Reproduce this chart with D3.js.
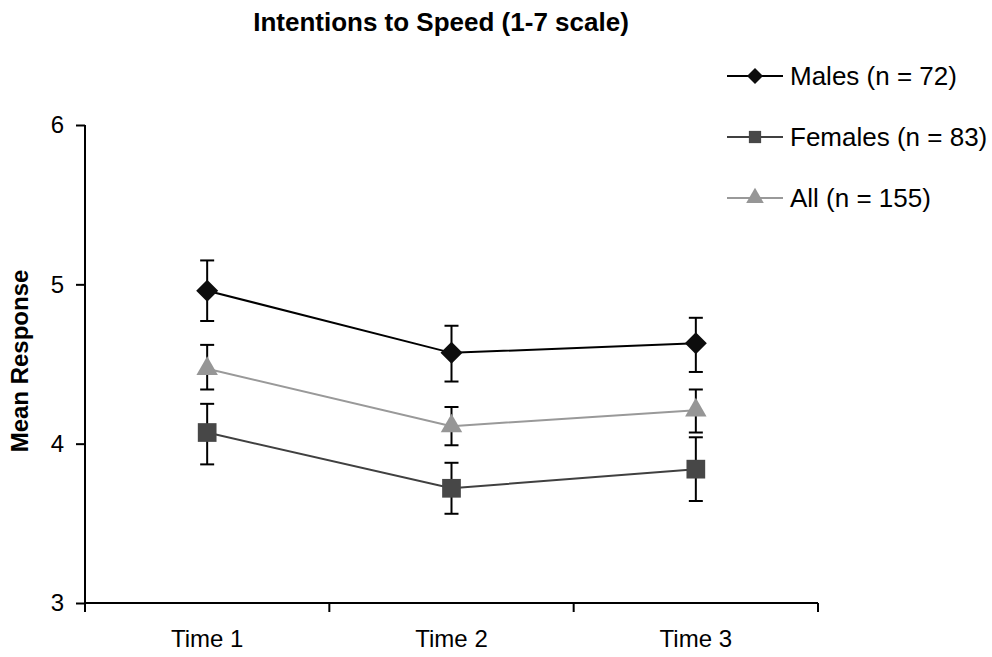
<!DOCTYPE html>
<html>
<head>
<meta charset="utf-8">
<script src="https://cdn.jsdelivr.net/npm/d3@7"></script>
<style>
	body { margin: 0; background: #fff; }
	svg { display: block; font-family: 'Liberation Sans', Arial, sans-serif; }
</style>
</head>
<body>
<svg id="chart" width="992" height="657"></svg>
<script>
const TIMES = ['Time 1', 'Time 2', 'Time 3'];
const Y_TICKS = [3, 4, 5, 6];

const MALES = [4.96, 4.57, 4.63];
const MALES_LO = [4.77, 4.39, 4.45];
const MALES_HI = [5.15, 4.74, 4.79];

const FEMALES = [4.07, 3.72, 3.84];
const FEMALES_LO = [3.87, 3.56, 3.64];
const FEMALES_HI = [4.25, 3.88, 4.04];

const ALL = [4.47, 4.11, 4.21];
const ALL_LO = [4.34, 3.99, 4.07];
const ALL_HI = [4.62, 4.23, 4.34];

const SERIES = [
	{ name: 'Males (n = 72)', values: MALES, lo: MALES_LO, hi: MALES_HI, line: '#000', fill: '#0d0d0d', shape: 'diamond' },
	{ name: 'Females (n = 83)', values: FEMALES, lo: FEMALES_LO, hi: FEMALES_HI, line: '#404040', fill: '#474747', shape: 'square' },
	{ name: 'All (n = 155)', values: ALL, lo: ALL_LO, hi: ALL_HI, line: '#999', fill: '#969696', shape: 'triangle' }
];

const $svg = d3.select('#chart');

const x = d3.scaleBand().domain(TIMES).range([85, 818]);
const y = d3.scaleLinear().domain([3, 6]).range([603, 125]);
const cx = t => x(t) + x.bandwidth() / 2;

function symbolPath(shape, big) {
	if (shape === 'diamond') return d3.symbol(d3.symbolSquare, big ? 242 : 128)();
	if (shape === 'square') return d3.symbol(d3.symbolSquare, big ? 350 : 150)();
	return d3.symbol(d3.symbolTriangle, big ? 200 : 135)();
}

function marker($g, s, px, py, big) {
	$g.append('path')
		.attr('d', symbolPath(s.shape, big))
		.attr('transform', `translate(${px},${py})` + (s.shape === 'diamond' ? ' rotate(45)' : ''))
		.attr('fill', s.fill);
}

// title
$svg.append('text')
	.attr('x', 441).attr('y', 31)
	.attr('text-anchor', 'middle')
	.attr('font-weight', 'bold')
	.attr('font-size', 26)
	.text('Intentions to Speed (1-7 scale)');

// y axis
const $yAxis = $svg.append('g')
	.attr('transform', 'translate(85,0)')
	.call(d3.axisLeft(y).tickValues(Y_TICKS).tickFormat(d3.format('d')).tickSize(9).tickPadding(12));
$yAxis.select('.domain').attr('stroke-width', 2).attr('d', 'M0,125V603');
$yAxis.selectAll('.tick line').attr('stroke-width', 2);
$yAxis.selectAll('.tick text').attr('font-size', 24).attr('font-family', null);

$svg.append('text')
	.attr('transform', 'translate(28,361) rotate(-90)')
	.attr('text-anchor', 'middle')
	.attr('font-weight', 'bold')
	.attr('font-size', 24)
	.text('Mean Response');

// x axis
const $xAxis = $svg.append('g')
	.attr('transform', 'translate(0,603)')
	.call(d3.axisBottom(x).tickSize(0).tickPadding(27));
$xAxis.select('.domain').attr('stroke-width', 2).attr('d', 'M85,0H818');
$xAxis.selectAll('.tick text').attr('font-size', 24).attr('font-family', null);
$xAxis.selectAll('.sep')
	.data(TIMES.concat(['end']))
	.enter().append('line')
	.attr('x1', (d, i) => i < TIMES.length ? x(d) : x(TIMES[TIMES.length - 1]) + x.bandwidth())
	.attr('x2', (d, i) => i < TIMES.length ? x(d) : x(TIMES[TIMES.length - 1]) + x.bandwidth())
	.attr('y1', 0).attr('y2', 9)
	.attr('stroke', '#000').attr('stroke-width', 2);

// lines
const line = d3.line().x((d, i) => cx(TIMES[i])).y(d => y(d));
SERIES.forEach(s => {
	$svg.append('path')
		.attr('d', line(s.values))
		.attr('fill', 'none')
		.attr('stroke', s.line)
		.attr('stroke-width', 2);
});

// error bars
SERIES.forEach(s => {
	const $g = $svg.append('g').attr('stroke', '#000').attr('stroke-width', 2);
	TIMES.forEach((t, i) => {
		const px = cx(t);
		$g.append('line').attr('x1', px).attr('x2', px).attr('y1', y(s.hi[i])).attr('y2', y(s.lo[i]));
		$g.append('line').attr('x1', px - 7).attr('x2', px + 7).attr('y1', y(s.hi[i])).attr('y2', y(s.hi[i]));
		$g.append('line').attr('x1', px - 7).attr('x2', px + 7).attr('y1', y(s.lo[i])).attr('y2', y(s.lo[i]));
	});
});

// markers
SERIES.forEach(s => {
	const $g = $svg.append('g');
	TIMES.forEach((t, i) => marker($g, s, cx(t), y(s.values[i]), true));
});

// legend
const $legend = $svg.append('g');
SERIES.forEach((s, i) => {
	const ly = 76 + i * 61;
	$legend.append('line')
		.attr('x1', 727).attr('x2', 783).attr('y1', ly).attr('y2', ly)
		.attr('stroke', s.line).attr('stroke-width', 2);
	marker($legend, s, 755, ly, false);
	$legend.append('text')
		.attr('x', 790).attr('y', ly + 9)
		.attr('font-size', 26)
		.text(s.name);
});
</script>
</body>
</html>
